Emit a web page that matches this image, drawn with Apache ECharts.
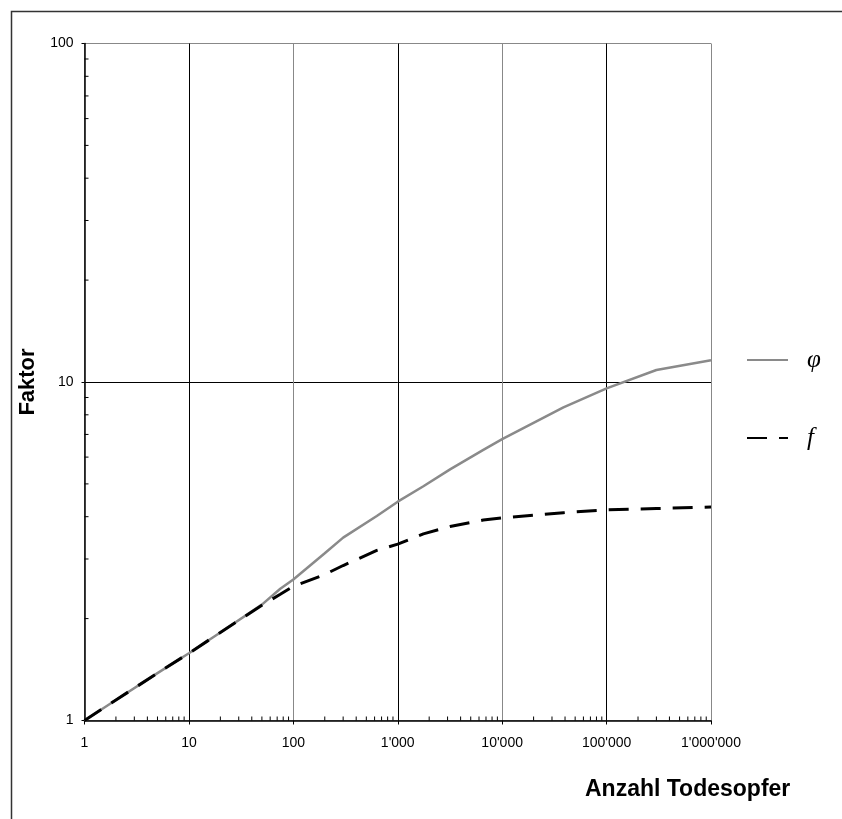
<!DOCTYPE html>
<html>
<head>
<meta charset="utf-8">
<script src="https://cdn.jsdelivr.net/npm/echarts@6/dist/echarts.min.js"></script>
<style>html,body{margin:0;padding:0;background:#fff;}#c{width:842px;height:819px;}</style>
</head>
<body>
<div id="c"></div>
<script>
// Number of deaths (x) sample points
var xValues = [1, 2, 5, 10, 20, 50, 75, 100, 200, 300, 630, 1000, 1760, 3170, 6600, 10000, 38600, 100000, 300000, 1000000];
// phi (solid gray)
var phiValues = [1, 1.15, 1.38, 1.58, 1.82, 2.2, 2.45, 2.61, 3.12, 3.47, 4.02, 4.43, 4.92, 5.52, 6.3, 6.78, 8.42, 9.58, 10.85, 11.6];
// f (dashed black)
var fValues = [1, 1.15, 1.38, 1.58, 1.82, 2.19, 2.36, 2.49, 2.7, 2.87, 3.18, 3.32, 3.56, 3.74, 3.91, 3.97, 4.11, 4.19, 4.23, 4.27];
var seriesNames = ['\u03c6', 'f'];
var xAxisTitle = 'Anzahl Todesopfer';
var yAxisTitle = 'Faktor';
// Minor tick values (2..9 within each decade)
var xMinorTicks = [];
[1, 10, 100, 1000, 10000, 100000].forEach(function (d) { for (var k = 2; k <= 9; k++) xMinorTicks.push(k * d); });
var yMinorTicks = [];
[1, 10].forEach(function (d) { for (var k = 2; k <= 9; k++) yMinorTicks.push(k * d); });

function pairs(xs, ys) { return xs.map(function (x, i) { return [x, ys[i]]; }); }
function fmtThousands(v) { return String(Math.round(v)).replace(/\B(?=(\d{3})+(?!\d))/g, "'"); }

var chart = echarts.init(document.getElementById('c'), null, { renderer: 'canvas' });
var font = 'Liberation Sans, Arial, sans-serif';
chart.setOption({
  animation: false,
  backgroundColor: '#fff',
  title: {
    text: xAxisTitle, left: 580, top: 773,
    textStyle: { fontFamily: font, fontWeight: 'bold', fontSize: 23, color: '#000' }
  },
  graphic: [{
    type: 'rect', left: 9, top: 9, z: -1,
    shape: { width: 860, height: 840 },
    style: { fill: 'none', stroke: '#333', lineWidth: 1.5 }
  }],
  legend: {
    data: seriesNames,
    orient: 'vertical', left: 741, top: 341,
    itemWidth: 41, itemHeight: 14, itemGap: 50,
    itemStyle: { opacity: 0 },
    textStyle: { fontFamily: 'Liberation Serif, DejaVu Serif, serif', fontStyle: 'italic', fontSize: 25, color: '#000', lineHeight: 28, padding: [0, 0, 0, 14] }
  },
  grid: { left: 84.5, right: 131, top: 43.5, bottom: 98.5, containLabel: false },
  xAxis: {
    type: 'log', logBase: 10, min: 1, max: 1000000,
    axisLine: { onZero: false, lineStyle: { color: '#000', width: 1.5 } },
    axisTick: { show: true, length: 4, lineStyle: { color: '#000', width: 1 } },
    axisLabel: { fontFamily: font, fontSize: 14, color: '#000', margin: 16, formatter: fmtThousands },
    splitLine: { show: true, lineStyle: { color: ['#888', '#000'], width: 1 } }
  },
  yAxis: {
    type: 'log', logBase: 10, min: 1, max: 100,
    name: yAxisTitle, nameLocation: 'middle', nameGap: 40,
    nameTextStyle: { fontFamily: font, fontWeight: 'bold', fontSize: 22, color: '#000' },
    axisLine: { lineStyle: { color: '#000', width: 1.5 } },
    axisTick: { show: true, length: 3, lineStyle: { color: '#000', width: 1 } },
    axisLabel: { fontFamily: font, fontSize: 14, color: '#000', margin: 11 },
    splitLine: { show: true, lineStyle: { color: ['#888', '#000'], width: 1 } }
  },
  series: [
    {
      name: seriesNames[0], type: 'line', data: pairs(xValues, phiValues),
      symbol: 'none', smooth: false, z: 3,
      lineStyle: { color: '#8a8a8a', width: 2.5 }, itemStyle: { color: '#8a8a8a' }
    },
    {
      name: seriesNames[1], type: 'line', data: pairs(xValues, fValues),
      symbol: 'none', smooth: false, z: 4,
      lineStyle: { color: '#000', width: 3, type: [20, 12] }, itemStyle: { color: '#000' }
    },
    {
      type: 'custom', name: 'xminor', silent: true, clip: false, z: 5,
      data: xMinorTicks.map(function (v) { return [v, 1]; }),
      encode: { x: 0, y: 1 },
      renderItem: function (params, api) {
        var p = api.coord([api.value(0), api.value(1)]);
        return { type: 'line', shape: { x1: p[0], y1: p[1], x2: p[0], y2: p[1] - 4 }, style: { stroke: '#000', lineWidth: 1 } };
      }
    },
    {
      type: 'custom', name: 'yminor', silent: true, clip: false, z: 5,
      data: yMinorTicks.map(function (v) { return [1, v]; }),
      encode: { x: 0, y: 1 },
      renderItem: function (params, api) {
        var p = api.coord([api.value(0), api.value(1)]);
        return { type: 'line', shape: { x1: p[0], y1: p[1], x2: p[0] + 4, y2: p[1] }, style: { stroke: '#000', lineWidth: 1 } };
      }
    }
  ]
});
</script>
</body>
</html>
